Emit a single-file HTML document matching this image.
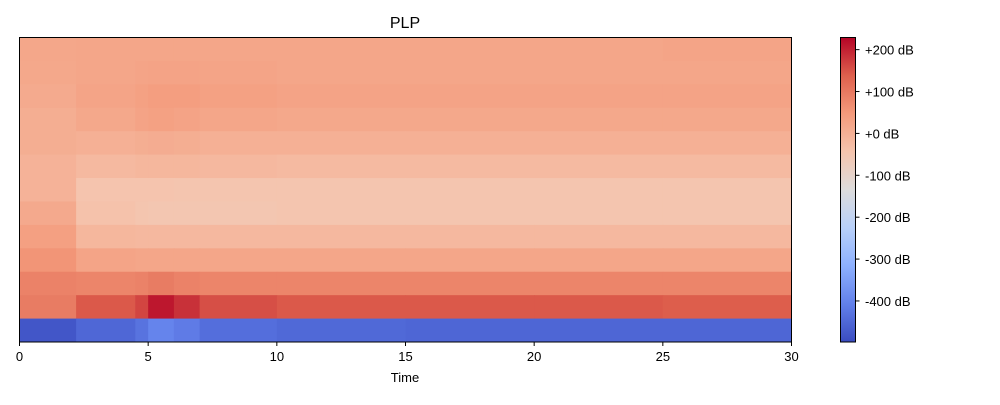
<!DOCTYPE html>
<html><head><meta charset="utf-8"><style>
body{margin:0;background:#fff;font-family:"Liberation Sans",sans-serif;}
svg text{font-family:"Liberation Sans",sans-serif;font-size:13px;fill:#000}
</style></head><body>
<svg id="chart" width="1000" height="400">
<defs><linearGradient id="cbg" x1="0" y1="1" x2="0" y2="0"></linearGradient></defs>
<text x="405" y="28" text-anchor="middle" style="font-size:16px">PLP</text>
<g id="cells"></g>
<rect x="19.5" y="37.5" width="772" height="304.5" fill="none" stroke="#000"/>
<g id="xticks"></g>
<text x="405" y="382" text-anchor="middle">Time</text>
<rect x="840.5" y="37.5" width="15" height="304.5" fill="url(#cbg)" stroke="#000"/>
<g id="cticks"></g>
</svg>
<script>
const times=[0,2.2,4.5,5,6,7,10,15,20,25,30];
const rowValues=[
[20,22,22,22,22,22,22,22,22,25],
[18,22,25,28,28,25,22,22,22,22],
[12,25,32,38,38,32,28,28,28,28],
[5,18,28,32,28,22,18,18,18,18],
[5,0,5,8,5,0,0,0,0,0],
[-5,-20,-15,-15,-15,-18,-22,-22,-22,-22],
[-5,-45,-45,-45,-48,-48,-48,-48,-48,-48],
[15,-40,-48,-52,-52,-52,-48,-48,-48,-48],
[35,-15,-18,-18,-18,-18,-18,-18,-18,-18],
[55,25,22,22,22,22,22,22,22,22],
[85,80,85,95,85,80,80,80,80,80],
[95,145,165,210,185,155,145,145,145,140],
[-480,-450,-430,-400,-415,-438,-448,-452,-452,-452]];
const cticks=[200,100,0,-100,-200,-300,-400];
const xticks=[0,5,10,15,20,25,30];
const vmin=-498,vmax=229;
const X0=19.5,X1=791.5,Y0=37.5,Y1=342;
const xs=t=>X0+(t-0)/30*(X1-X0);
const cy=v=>Y1-(v-vmin)/(vmax-vmin)*(Y1-Y0);
const cm=[[58,76,192],[98,128,234],[141,176,254],[184,208,249],[221,220,220],[245,196,173],[244,154,123],[222,96,77],[180,4,38]];
function col(v){let f=Math.max(0,Math.min(1,(v-vmin)/(vmax-vmin)))*8;let i=Math.min(7,Math.floor(f)),r=f-i;
const c=cm[i].map((a,k)=>Math.round(a+(cm[i+1][k]-a)*r));return `rgb(${c})`;}
const NS="http://www.w3.org/2000/svg";
const g=document.getElementById('cells');const rh=(Y1-Y0)/rowValues.length;
rowValues.forEach((row,ri)=>row.forEach((v,ci)=>{
const r=document.createElementNS(NS,'rect');
r.setAttribute('x',xs(times[ci]));r.setAttribute('width',xs(times[ci+1])-xs(times[ci])+0.5);
r.setAttribute('y',Y0+ri*rh);r.setAttribute('height',rh+0.5);r.setAttribute('fill',col(v));


g.appendChild(r);}));
const gr=document.getElementById('cbg');
for(let i=0;i<=8;i++){const s=document.createElementNS(NS,'stop');s.setAttribute('offset',i/8);s.setAttribute('stop-color',`rgb(${cm[i]})`);gr.appendChild(s);}
const xg=document.getElementById('xticks');
xticks.forEach(t=>{const x=xs(t);
const l=document.createElementNS(NS,'line');l.setAttribute('x1',x);l.setAttribute('x2',x);l.setAttribute('y1',Y1);l.setAttribute('y2',Y1+4);l.setAttribute('stroke','#000');


xg.appendChild(l);
const tx=document.createElementNS(NS,'text');tx.setAttribute('x',x);tx.setAttribute('y',Y1+19);tx.setAttribute('text-anchor','middle');tx.textContent=t;


xg.appendChild(tx);});
const cg=document.getElementById('cticks');
cticks.forEach(v=>{const y=cy(v);
const l=document.createElementNS(NS,'line');l.setAttribute('x1',855.5);l.setAttribute('x2',859.5);l.setAttribute('y1',y);l.setAttribute('y2',y);l.setAttribute('stroke','#000');


cg.appendChild(l);
const tx=document.createElementNS(NS,'text');tx.setAttribute('x',865);tx.setAttribute('y',y+5);tx.textContent=(v>=0?'+':'')+v+' dB';


cg.appendChild(tx);});
</script>
</body></html>
